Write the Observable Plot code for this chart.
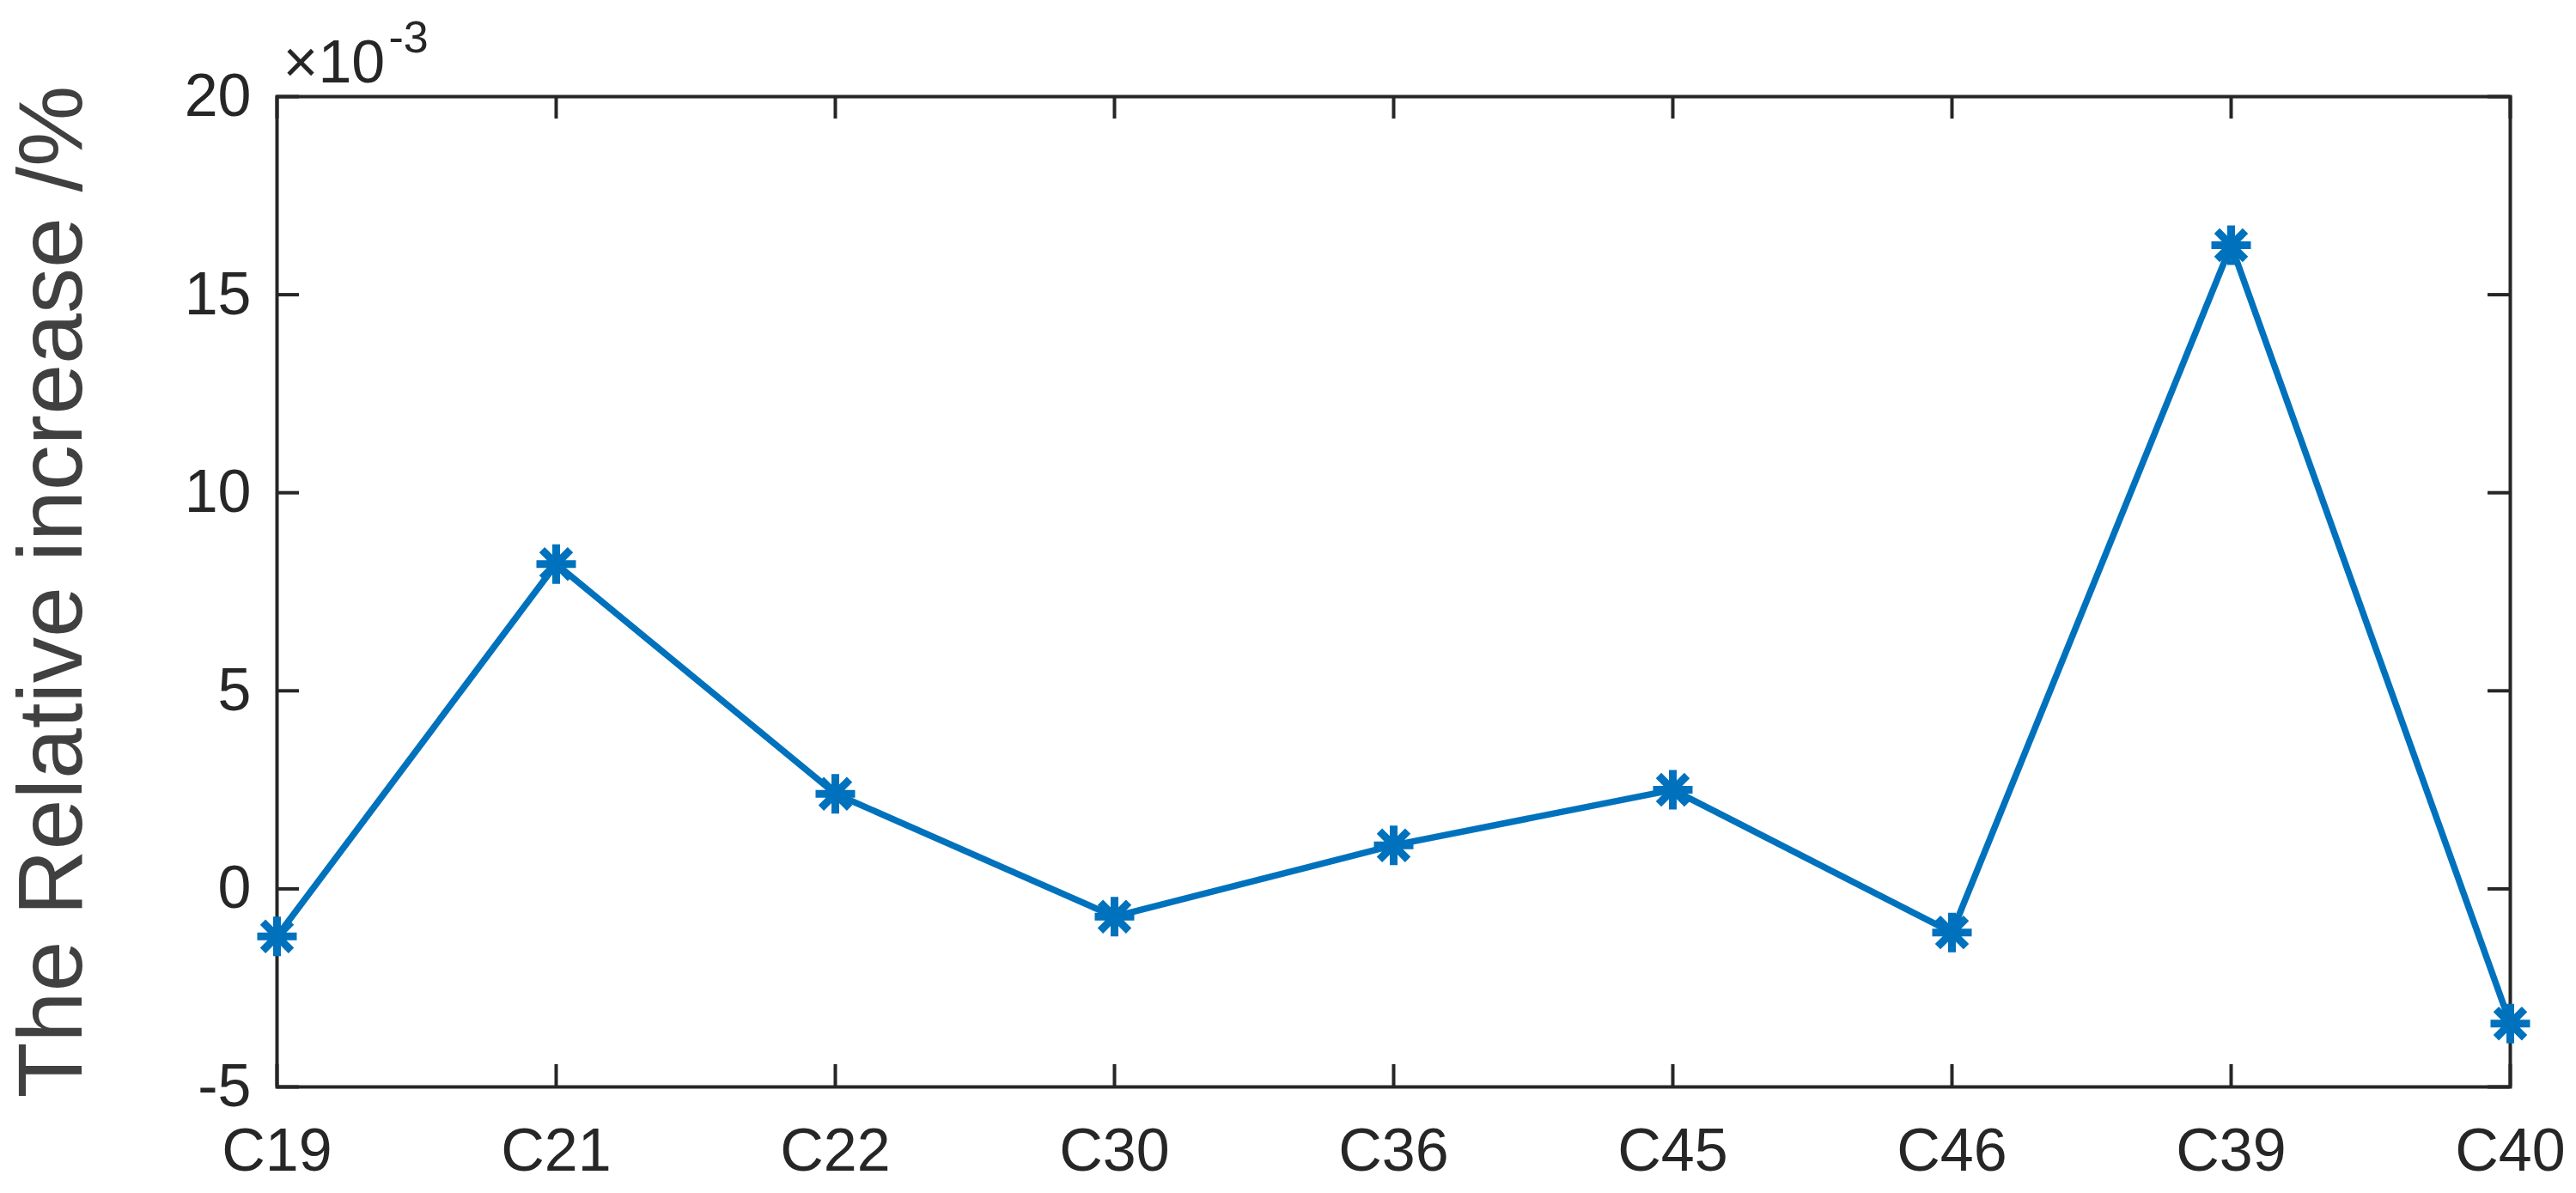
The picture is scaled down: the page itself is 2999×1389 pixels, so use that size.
<!DOCTYPE html>
<html>
<head>
<meta charset="utf-8">
<script src="https://cdn.jsdelivr.net/npm/d3@7"></script>
<script src="https://cdn.jsdelivr.net/npm/@observablehq/plot@0.6"></script>
<style>
  html, body { margin: 0; padding: 0; background: #fff; }
  #chart svg { display: block; }
</style>
</head>
<body>
<div id="chart"></div>
<script>
// ---- data ----
const categories = ["C19", "C21", "C22", "C30", "C36", "C45", "C46", "C39", "C40"];
const values = [-1.2, 8.2, 2.4, -0.7, 1.1, 2.5, -1.1, 16.25, -3.4];
const yTicks = [-5, 0, 5, 10, 15, 20];
const yLabel = "The Relative increase /%";
const scaleBase = "\u00d710";
const scaleExp = "-3";

const data = categories.map((c, i) => ({cat: c, val: values[i]}));

// ---- layout ----
const W = 2999, H = 1389;
const mL = 322, mR = 77, mT = 112, mB = 124;
const plotW = W - mL - mR, plotH = H - mT - mB;
const tickLen = 26;
const axisColor = "#262626";
const lineColor = "#0072BD";

// 8-armed MATLAB-style asterisk
const asterisk = {
  draw(ctx, size) {
    const r = Math.sqrt(size / Math.PI);
    const d = r * 0.72;
    ctx.moveTo(0, -r); ctx.lineTo(0, r);
    ctx.moveTo(-r, 0); ctx.lineTo(r, 0);
    ctx.moveTo(-d, -d); ctx.lineTo(d, d);
    ctx.moveTo(-d, d); ctx.lineTo(d, -d);
  }
};

const chart = Plot.plot({
  width: W,
  height: H,
  marginLeft: mL,
  marginRight: mR,
  marginTop: mT,
  marginBottom: mB,
  style: {fontFamily: "'Liberation Sans', Arial, Helvetica, sans-serif", background: "#fff"},
  x: {type: "point", domain: categories, padding: 0},
  y: {domain: [-5, 20]},
  marks: [
    // tick labels
    Plot.axisX({ticks: categories, tickSize: 0, tickPadding: 48, fontSize: 70, fill: axisColor, label: null}),
    Plot.axisY({ticks: yTicks, tickSize: 0, tickPadding: 30, fontSize: 70, fill: axisColor, label: null, tickFormat: d => String(d).replace("\u2212", "-")}),
    // inward ticks on all four sides
    Plot.ruleX(categories, {x: d => d, insetTop: plotH - tickLen, stroke: axisColor, strokeWidth: 4}),
    Plot.ruleX(categories, {x: d => d, insetBottom: plotH - tickLen, stroke: axisColor, strokeWidth: 4}),
    Plot.ruleY(yTicks, {y: d => d, insetRight: plotW - tickLen, stroke: axisColor, strokeWidth: 4}),
    Plot.ruleY(yTicks, {y: d => d, insetLeft: plotW - tickLen, stroke: axisColor, strokeWidth: 4}),
    Plot.frame({stroke: axisColor, strokeWidth: 4}),
    // series
    Plot.line(data, {x: "cat", y: "val", stroke: lineColor, strokeWidth: 7.5}),
    Plot.dot(data, {x: "cat", y: "val", symbol: asterisk, r: 23, stroke: lineColor, strokeWidth: 9, fill: "none"}),
    // y axis title
    Plot.text([yLabel], {frameAnchor: "left", text: d => d, rotate: -90, lineAnchor: "bottom", textAnchor: "middle", dx: -228, fontSize: 106, fill: "#404040"}),
    // exponent multiplier
    Plot.text([scaleBase], {frameAnchor: "top-left", text: d => d, textAnchor: "start", lineAnchor: "bottom", dx: 7, dy: -17, fontSize: 70, fill: axisColor}),
    Plot.text([scaleExp], {frameAnchor: "top-left", text: d => d, textAnchor: "start", lineAnchor: "bottom", dx: 130, dy: -52, fontSize: 52, fill: axisColor})
  ]
});

document.getElementById("chart").appendChild(chart);
</script>
</body>
</html>
